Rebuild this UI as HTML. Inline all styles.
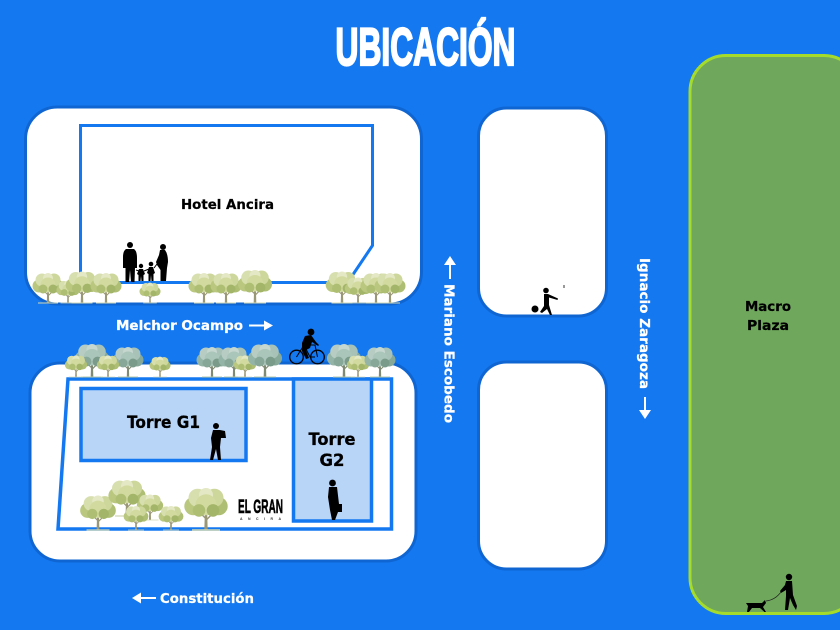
<!DOCTYPE html>
<html lang="es"><head><meta charset="utf-8"><title>Ubicación</title>
<style>html,body{margin:0;padding:0;width:840px;height:630px;overflow:hidden;background:#1478f0}svg{display:block}
text{font-family:"DejaVu Sans","Liberation Sans",sans-serif;font-weight:700}</style></head><body>
<svg xmlns="http://www.w3.org/2000/svg" width="840" height="630" viewBox="0 0 840 630">
<defs>
<g id="ty">
<path d="M-1.200 0L-.8-14H.8L1.200 0Z" fill="#9a9775"/><path d="M0-8L-6-14M0-7L6-13" stroke="#9a9775" fill="none"/>
<circle cx="-9" cy="-17" r="6.500" fill="#b9c77f"/><circle cx="9" cy="-17" r="6.500" fill="#aebf74"/>
<circle cx="-6" cy="-23" r="6.500" fill="#d8dfae"/><circle cx="6" cy="-23" r="6.500" fill="#cdd69b"/><circle cx="0" cy="-25" r="5" fill="#e4e8c4"/>
<circle cx="0" cy="-18" r="7.500" fill="#d2da9f"/><circle cx="-5" cy="-14" r="4.500" fill="#aebf74"/><circle cx="5" cy="-14" r="4.500" fill="#a3b568"/>
<path d="M-10 0H10" stroke="#d0d8b4" stroke-width="1"/>
</g>
<g id="tb">
<path d="M-1.200 0L-.8-14H.8L1.200 0Z" fill="#7f8a72"/><path d="M0-8L-6-14M0-7L6-13" stroke="#7f8a72" fill="none"/>
<circle cx="-9" cy="-17" r="6.500" fill="#93b4a6"/><circle cx="9" cy="-17" r="6.500" fill="#86a899"/>
<circle cx="-6" cy="-23" r="6.500" fill="#b7cdc4"/><circle cx="6" cy="-23" r="6.500" fill="#a8c2b8"/><circle cx="0" cy="-25" r="5" fill="#c6d7d0"/>
<circle cx="0" cy="-18" r="7.500" fill="#aac5ba"/><circle cx="-5" cy="-14" r="4.500" fill="#87a798"/><circle cx="5" cy="-14" r="4.500" fill="#7b9b8a"/>
<path d="M-10 0H10" stroke="#b9c8a8" stroke-width="1"/>
</g>
</defs>
<rect width="840" height="630" fill="#1478f0"/>

<text x="335.500" y="65" font-size="53" fill="#fff" stroke="#fff" stroke-width="2.200" textLength="180" lengthAdjust="spacingAndGlyphs" style="font-family:'Liberation Sans',sans-serif">UBICACIÓN</text>

<!-- blocks -->
<g fill="#fff" stroke="#0f66d2" stroke-width="3">
<rect x="25.500" y="107" width="396" height="197" rx="32"/>
<rect x="30" y="363" width="386" height="198" rx="30"/>
<rect x="478.500" y="108" width="128" height="208" rx="28"/>
<rect x="478.500" y="362" width="128" height="207" rx="28"/>
</g>
<rect x="690" y="55.500" width="170" height="558" rx="36" fill="#6fa85c" stroke="#a5dc2c" stroke-width="3"/>

<!-- hotel -->
<path d="M80.500 125.500H372.500V245.500L352 276 335 282.500H80.500Z" fill="#fff" stroke="#1478f0" stroke-width="3"/>
<text x="181" y="209" font-size="13.500" fill="#000" stroke="#000" stroke-width=".25" textLength="93" lengthAdjust="spacingAndGlyphs">Hotel Ancira</text>

<!-- site -->
<path d="M68 379H391.500V529H58Z" fill="#fff" stroke="#1478f0" stroke-width="3.500"/>
<rect x="81" y="388.500" width="165" height="72" fill="#b8d5f8" stroke="#1478f0" stroke-width="3.500"/>
<rect x="293.500" y="379" width="78" height="142" fill="#b8d5f8" stroke="#1478f0" stroke-width="3.500"/>
<g fill="#000" stroke="#000" stroke-width=".3">
<text x="127" y="428" font-size="17" textLength="73" lengthAdjust="spacingAndGlyphs">Torre G1</text>
<text x="332" y="445" font-size="17" text-anchor="middle" textLength="47" lengthAdjust="spacingAndGlyphs">Torre</text>
<text x="332" y="466" font-size="17" text-anchor="middle" textLength="25" lengthAdjust="spacingAndGlyphs">G2</text>
</g>
<text x="238" y="513" font-size="19" fill="#000" textLength="45" lengthAdjust="spacingAndGlyphs" style="font-family:'Liberation Sans',sans-serif" stroke="#000" stroke-width=".6">EL GRAN</text>
<text x="240" y="520" font-size="3.500" fill="#333" textLength="41" style="font-family:'Liberation Sans',sans-serif">ANCIRA</text>

<!-- street labels -->
<g fill="#fff" stroke="#fff" stroke-width=".25">
<text x="116" y="330" font-size="13" textLength="127" lengthAdjust="spacingAndGlyphs">Melchor Ocampo</text>
<text x="160" y="603" font-size="13" textLength="94" lengthAdjust="spacingAndGlyphs">Constitución</text>
<text transform="translate(444.500,284) rotate(90)" font-size="13" textLength="139" lengthAdjust="spacingAndGlyphs">Mariano Escobedo</text>
<text transform="translate(640,258) rotate(90)" font-size="13" textLength="131" lengthAdjust="spacingAndGlyphs">Ignacio Zaragoza</text>
</g>
<g fill="#fff">
<path d="M249 324.500H264V320.500L273 325.500 264 330.500V326.500H249Z"/>
<path d="M156 597H141V592.500L132 598 141 603.500V599H156Z"/>
<path d="M449 279V265H444L450 256 456 265H451V279Z"/>
<path d="M644 397V410H639L645 419 651 410H646V397Z"/>
</g>
<g fill="#000" stroke="#000" stroke-width=".25">
<text x="768" y="311" font-size="13.500" text-anchor="middle" textLength="46" lengthAdjust="spacingAndGlyphs">Macro</text>
<text x="768" y="330" font-size="13.500" text-anchor="middle" textLength="42" lengthAdjust="spacingAndGlyphs">Plaza</text>
</g>

<!-- family -->
<g fill="#000">
<circle cx="130" cy="245" r="3"/><path d="M126 249H134Q137 251 137 258L137 268 135 268 134.500 282H131L130 270 129 282H125.500L125.500 268 123 268 123 257Q123 251 126 249Z"/>
<circle cx="163" cy="247" r="3"/><path d="M160 250H165Q168 254 168 262L167 268 166 281H160.500L160.500 270 157 265 156 262 159 255Z"/>
<circle cx="141" cy="266" r="2.200"/><path d="M139 269H143L145 274 143.500 275 143.500 281H141.500L141 276 140.500 281H138.500L138.500 275 137 274Z"/>
<circle cx="151" cy="264" r="2.300"/><path d="M149 267H153L155 273 153.500 274 153.500 281H151.500L151 275 150.500 281H148.500L148.500 274 147 273Z"/>
<path d="M136 270L139 271M144 271L149 269M154 268L157 264" stroke="#000" stroke-width="1"/>
</g>

<!-- trees top block -->
<use href="#ty" transform="translate(48,303)"/>
<use href="#ty" transform="translate(68,303) scale(.75)"/>
<use href="#ty" transform="translate(82,303) scale(1.05)"/>
<use href="#ty" transform="translate(106,303)"/>
<use href="#ty" transform="translate(150,303) scale(.68)"/>
<use href="#ty" transform="translate(204,303)"/>
<use href="#ty" transform="translate(226,303)"/>
<use href="#ty" transform="translate(255,303) scale(1.1)"/>
<use href="#ty" transform="translate(342,303) scale(1.05)"/>
<use href="#ty" transform="translate(358,303) scale(.85)"/>
<use href="#ty" transform="translate(376,303)"/>
<use href="#ty" transform="translate(390,303)"/>

<!-- trees middle row -->
<use href="#tb" transform="translate(92,377) scale(1.1)"/>
<use href="#tb" transform="translate(128,377)"/>
<use href="#ty" transform="translate(76,377) scale(.72)"/>
<use href="#ty" transform="translate(108,377) scale(.72)"/>
<use href="#ty" transform="translate(160,377) scale(.68)"/>
<use href="#tb" transform="translate(212,377)"/>
<use href="#tb" transform="translate(234,377)"/>
<use href="#ty" transform="translate(245,377) scale(.72)"/>
<use href="#tb" transform="translate(265,377) scale(1.1)"/>
<use href="#tb" transform="translate(344,377) scale(1.1)"/>
<use href="#ty" transform="translate(358,377) scale(.72)"/>
<use href="#tb" transform="translate(380,377)"/>

<!-- trees lower -->
<use href="#ty" transform="translate(98,530) scale(1.15)"/>
<use href="#ty" transform="translate(127,516) scale(1.2)"/>
<use href="#ty" transform="translate(150,520) scale(.85)"/>
<use href="#ty" transform="translate(136,530) scale(.8)"/>
<use href="#ty" transform="translate(171,530) scale(.8)"/>
<use href="#ty" transform="translate(206,530) scale(1.4)"/>

<!-- cyclist -->
<g fill="none" stroke="#000">
<circle cx="296.500" cy="357" r="6.800" stroke-width="1.300"/><circle cx="317.500" cy="357" r="6.800" stroke-width="1.300"/>
<path d="M296.500 357L304 345H315L317.500 357M304 345L310 357H315" stroke-width="1"/>
</g>
<circle cx="311" cy="332" r="3.400"/>
<path d="M305 336L311 335 316 342 319 345 318 346 312 342 310 348 306 350 309 358 306 359 302 351 302 343Z"/>

<!-- sax player -->
<circle cx="216" cy="426" r="3"/>
<path d="M213 430H220L225 431 226 438 221 438 220 447 221 460H218L216 449 213 460H210L212 447 211 438Z"/>

<!-- businessman -->
<circle cx="332.500" cy="483" r="3.400"/>
<path d="M329 487H337L339 504 342 504V512H338L335 520H332L330 510 328 497Z"/>

<!-- kicker -->
<circle cx="546" cy="290.500" r="2.800"/><circle cx="535" cy="309" r="3.500"/>
<path d="M544 294H548L558 298.500 557.500 300 549 297.500 549 305 552 315H550L547 309 542 313 540 312 544 306Z"/>
<rect x="563.500" y="285" width="1" height="3" fill="#333"/>

<!-- dog walker -->
<circle cx="789" cy="577" r="3.200"/>
<path d="M786 581H792L793 595 797 606 796 610 793 605 790 598 788 610H785L786 596 786 590 781 593 780 591 785 585Z"/>
<path d="M746 603H762L765 600 766 603 763 607 766 612H764.500L760 608H752L749 612H747L748 606Z"/>
<path d="M766 601Q775 600 781 592" fill="none" stroke="#222" stroke-width=".7"/>
</svg>
</body></html>
